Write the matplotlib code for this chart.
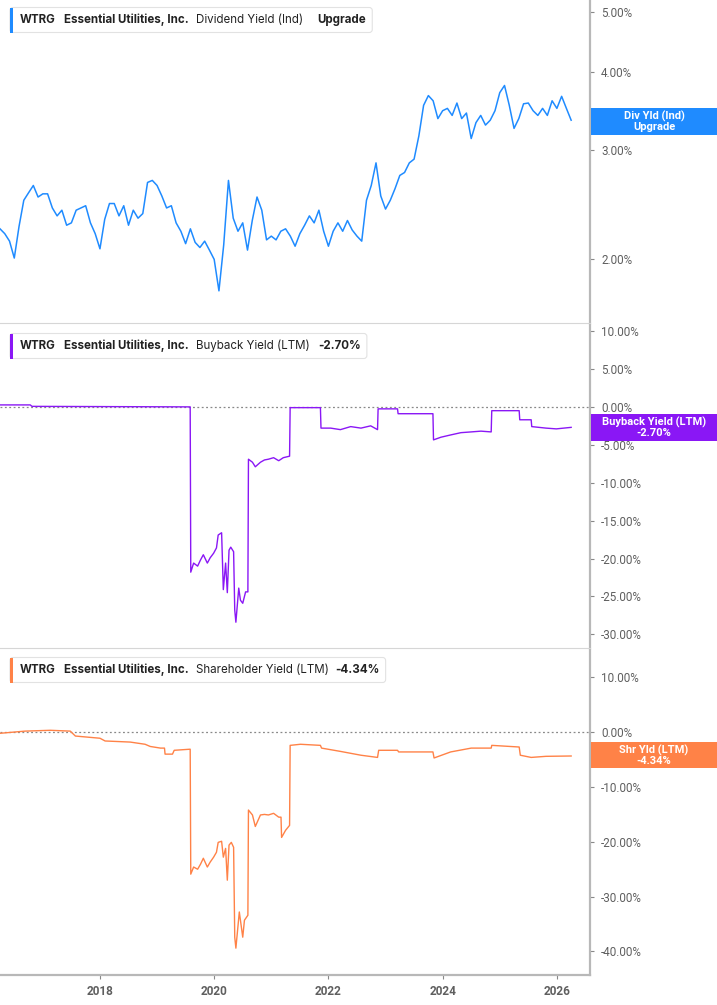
"""Essential Utilities (WTRG): dividend, buyback and shareholder yield panels."""

import matplotlib.pyplot as plt
from matplotlib.patches import FancyBboxPatch, Rectangle
from matplotlib.ticker import FixedLocator, FuncFormatter, NullLocator
from matplotlib.transforms import IdentityTransform

W, H = 717, 1005

BLUE = "#1f8bff"
PURPLE = "#8a17f5"
ORANGE = "#ff8247"
AXIS_GRAY = "#b8b8b8"
TEXT_GRAY = "#5f5f5f"

# dividend yield (ind), %, monthly from Apr 2016
DIV_START = 2016.25
DIV_YIELD = [2.24, 2.20, 2.14, 2.01, 2.26, 2.49, 2.56, 2.63, 2.52, 2.55,
             2.55, 2.42, 2.35, 2.40, 2.27, 2.29, 2.40, 2.42, 2.44, 2.29,
             2.20, 2.08, 2.32, 2.46, 2.46, 2.35, 2.44, 2.27, 2.40, 2.33,
             2.37, 2.66, 2.68, 2.63, 2.53, 2.42, 2.44, 2.29, 2.22, 2.12,
             2.24, 2.13, 2.09, 2.14, 2.07, 2.00, 1.78, 2.11, 2.68, 2.33,
             2.22, 2.29, 2.07, 2.31, 2.52, 2.40, 2.15, 2.18, 2.15, 2.22,
             2.24, 2.18, 2.10, 2.20, 2.27, 2.35, 2.29, 2.40, 2.22, 2.10,
             2.22, 2.29, 2.22, 2.31, 2.23, 2.18, 2.14, 2.49, 2.63, 2.86,
             2.53, 2.41, 2.49, 2.60, 2.73, 2.76, 2.86, 2.90, 3.16, 3.54,
             3.67, 3.60, 3.37, 3.47, 3.50, 3.41, 3.57, 3.37, 3.44, 3.13,
             3.32, 3.41, 3.29, 3.35, 3.47, 3.71, 3.81, 3.54, 3.25, 3.37,
             3.56, 3.57, 3.47, 3.41, 3.50, 3.41, 3.60, 3.50, 3.66, 3.50,
             3.35]

# buyback yield (LTM), %
BUYBACK_YEARS = [2016.25, 2016.78, 2016.81, 2019.58, 2019.59, 2019.64, 2019.71,
                 2019.76, 2019.81, 2019.88, 2019.93, 2019.99, 2020.04, 2020.07,
                 2020.13, 2020.16, 2020.20, 2020.23, 2020.26, 2020.29, 2020.34,
                 2020.36, 2020.38, 2020.43, 2020.46, 2020.50, 2020.55, 2020.59,
                 2020.60, 2020.67, 2020.72, 2020.81, 2020.88, 2020.95, 2021.04,
                 2021.13, 2021.21, 2021.32, 2021.33, 2021.86, 2021.87, 2022.04,
                 2022.21, 2022.39, 2022.57, 2022.74, 2022.86, 2022.87, 2023.21,
                 2023.22, 2023.83, 2023.84, 2023.97, 2024.14, 2024.32, 2024.50,
                 2024.67, 2024.85, 2024.86, 2025.34, 2025.35, 2025.55, 2025.56,
                 2025.81, 2025.99, 2026.25]
BUYBACK_YIELD = [0.26, 0.26, 0.07, 0.00, -21.8, -20.6, -21.0,
                 -20.2, -19.5, -20.6, -19.9, -19.3, -18.6, -16.9,
                 -16.6, -24.1, -20.6, -24.5, -18.9, -18.5, -19.1,
                 -26.8, -28.4, -23.9, -25.5, -25.9, -24.4, -24.4,
                 -6.9, -7.3, -7.9, -7.3, -7.0, -6.9, -6.7,
                 -7.1, -6.7, -6.5, -0.1, -0.1, -2.8, -2.8,
                 -3.0, -2.6, -2.8, -2.5, -3.0, -0.26, -0.26,
                 -0.9, -0.9, -4.35, -4.0, -3.7, -3.4, -3.3,
                 -3.2, -3.3, -0.5, -0.5, -1.7, -1.7, -2.6,
                 -2.8, -2.9, -2.70]

# shareholder yield (LTM), %
SHY_YEARS = [2016.25, 2016.69, 2017.13, 2017.48, 2017.57, 2018.00, 2018.09,
             2018.53, 2018.79, 2018.88, 2019.06, 2019.13, 2019.14, 2019.27,
             2019.30, 2019.58, 2019.59, 2019.64, 2019.71, 2019.76, 2019.81,
             2019.88, 2019.93, 2019.99, 2020.04, 2020.07, 2020.13, 2020.16,
             2020.20, 2020.23, 2020.26, 2020.30, 2020.34, 2020.36, 2020.38,
             2020.44, 2020.50, 2020.53, 2020.59, 2020.60, 2020.67, 2020.72,
             2020.81, 2020.88, 2020.95, 2021.04, 2021.13, 2021.17, 2021.18,
             2021.25, 2021.32, 2021.33, 2021.51, 2021.86, 2021.88, 2022.21,
             2022.57, 2022.86, 2022.88, 2023.21, 2023.23, 2023.83, 2023.85,
             2024.14, 2024.50, 2024.85, 2024.86, 2025.34, 2025.36, 2025.55,
             2025.81, 2026.25]
SHY_YIELD = [-0.2, 0.2, 0.35, 0.2, -0.7, -1.1, -1.6,
             -1.8, -2.2, -2.6, -2.9, -2.9, -4.0, -4.0,
             -3.3, -3.1, -25.9, -24.6, -25.0, -24.1, -23.0,
             -24.6, -23.7, -22.8, -21.9, -20.1, -19.9, -22.8,
             -21.2, -27.0, -20.6, -20.1, -21.0, -37.4, -39.4,
             -32.8, -37.4, -34.3, -33.4, -14.2, -15.1, -17.2,
             -15.1, -15.0, -15.1, -14.8, -15.5, -15.5, -19.2,
             -17.9, -17.0, -2.4, -2.2, -2.4, -2.9, -3.5,
             -4.2, -4.6, -3.3, -3.3, -3.6, -3.6, -4.7,
             -3.6, -2.9, -2.9, -2.4, -2.7, -4.2, -4.6,
             -4.4, -4.34]

YEAR_TICKS = [2018, 2020, 2022, 2024, 2026]
XLIM = (2016.25, 2026.58)


def pct(v, _pos=None):
    return f"{v:.2f}%"


def style_axis(ax, ticks, last=False):
    for side in ("left", "top"):
        ax.spines[side].set_visible(False)
    ax.spines["right"].set_color(AXIS_GRAY)
    ax.spines["right"].set_linewidth(1.6)
    ax.spines["bottom"].set_color(AXIS_GRAY if last else "#d6d6d6")
    ax.spines["bottom"].set_linewidth(1.6 if last else 0.8)
    ax.yaxis.tick_right()
    ax.yaxis.set_major_locator(FixedLocator(ticks))
    ax.yaxis.set_minor_locator(NullLocator())
    ax.yaxis.set_major_formatter(FuncFormatter(pct))
    ax.tick_params(axis="y", direction="out", length=3, width=0.8, color="#888888",
                   labelsize=8.4, labelcolor=TEXT_GRAY, pad=5)
    for lab in ax.get_yticklabels():
        lab.set_fontfamily("Roboto")
    ax.set_xlim(*XLIM)
    if last:
        ax.set_xticks(YEAR_TICKS)
        ax.set_xticklabels([str(y) for y in YEAR_TICKS], fontfamily="Roboto",
                           fontweight="bold", fontsize=8.5, color=TEXT_GRAY)
        ax.tick_params(axis="x", direction="out", length=3, width=0.8, color="#888888", pad=4)
    else:
        ax.tick_params(axis="x", bottom=False, labelbottom=False)


def draw_tag(fig, y_mid, parts, color):
    """Legend chip at top-left of a panel: colored bar + mixed-weight text."""
    renderer = fig.canvas.get_renderer()
    x = 20
    gap = 0
    for s, bold, gap in parts:
        t = fig.text(x, H - y_mid, s, transform=IdentityTransform(), fontsize=8.3,
                     fontfamily="Inter", fontweight="bold" if bold else "normal",
                     color="#222222", va="center", ha="left", zorder=6)
        x += t.get_window_extent(renderer).width + gap
    right = x - gap + 6
    box = FancyBboxPatch((10, H - y_mid - 12.5), right - 10, 25,
                         boxstyle="round,pad=0,rounding_size=3", transform=IdentityTransform(),
                         facecolor="white", edgecolor="#e2e2e2", lw=0.8, zorder=4)
    fig.add_artist(box)
    fig.add_artist(Rectangle((10, H - y_mid - 12.5), 3, 25, transform=IdentityTransform(),
                             facecolor=color, edgecolor="none", zorder=5))


def draw_value_box(fig, y_top, y_bot, text, color):
    fig.add_artist(Rectangle((591, H - y_bot), W - 591, y_bot - y_top, transform=IdentityTransform(),
                             facecolor=color, edgecolor="none", zorder=4))
    fig.text(654, H - (y_top + y_bot) / 2, text, transform=IdentityTransform(), fontsize=8,
             fontfamily="Roboto", fontweight="bold", color="white", ha="center", va="center",
             linespacing=1.0, zorder=5)


fig = plt.figure(figsize=(W / 100, H / 100), dpi=100)
panels = [(0, 323), (325, 648), (650, 975)]
axes = [fig.add_axes([0, 1 - b / H, 590 / W, (b - t) / H]) for t, b in panels]
ax1, ax2, ax3 = axes

div_years = [DIV_START + i / 12 for i in range(len(DIV_YIELD))]
ax1.plot(div_years, DIV_YIELD, color=BLUE, lw=1.1)
ax1.set_yscale("log")
ax1.set_ylim(1.58, 5.23)
style_axis(ax1, [2, 3, 4, 5])

ax2.plot(BUYBACK_YEARS, BUYBACK_YIELD, color=PURPLE, lw=1.0)
ax2.axhline(0, color="#888888", lw=0.9, ls=(0, (1.5, 2)), zorder=0)
ax2.set_ylim(-31.8, 10.8)
style_axis(ax2, [10, 5, 0, -5, -10, -15, -20, -25, -30])

ax3.plot(SHY_YEARS, SHY_YIELD, color=ORANGE, lw=1.0)
ax3.axhline(0, color="#888888", lw=0.9, ls=(0, (1.5, 2)), zorder=0)
ax3.set_ylim(-44.3, 15.0)
style_axis(ax3, [10, 0, -10, -20, -30, -40], last=True)

draw_tag(fig, 20, [("WTRG", True, 8), ("Essential Utilities, Inc.", True, 8),
                   ("Dividend Yield (Ind)", False, 14), ("Upgrade", True, 0)], BLUE)
draw_tag(fig, 346, [("WTRG", True, 8), ("Essential Utilities, Inc.", True, 8),
                    ("Buyback Yield (LTM)", False, 8), ("-2.70%", True, 0)], PURPLE)
draw_tag(fig, 670, [("WTRG", True, 8), ("Essential Utilities, Inc.", True, 8),
                    ("Shareholder Yield (LTM)", False, 6), ("-4.34%", True, 0)], ORANGE)

draw_value_box(fig, 108, 135, "Div Yld (Ind)\nUpgrade", BLUE)
draw_value_box(fig, 414, 441, "Buyback Yield (LTM)\n-2.70%", PURPLE)
draw_value_box(fig, 742, 768, "Shr Yld (LTM)\n-4.34%", ORANGE)

fig.savefig("out.png", dpi=100)
